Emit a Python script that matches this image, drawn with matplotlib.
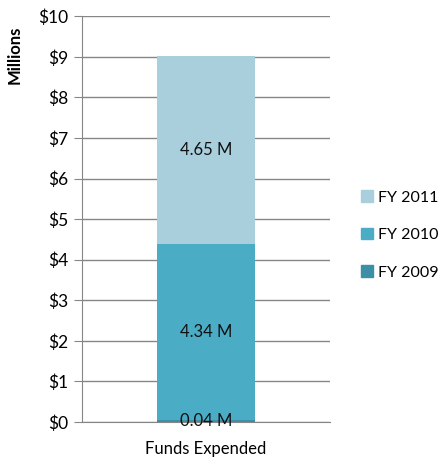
import matplotlib.pyplot as plt
from matplotlib.patches import Patch

# values in millions
category = ["Funds Expended"]
years = ["FY 2009", "FY 2010", "FY 2011"]
values = [0.04, 4.34, 4.65]
labels = ["0.04 M", "4.34 M", "4.65 M"]
colors = ["#3d8fa6", "#4bacc6", "#a9cfdd"]
yticks = list(range(0, 11))
ytick_labels = [f"${v}" for v in yticks]

plt.rcParams['font.family'] = ['Lato', 'DejaVu Sans']

fig = plt.figure(figsize=(4.39, 4.57), dpi=100)
ax = fig.add_axes([0.187, 0.0766, 0.565, 0.888])

bottom = 0
for yr, v, lab, c in zip(years, values, labels, colors):
    ax.bar(0, v, width=1.0, bottom=bottom, color=c, label=yr, zorder=3)
    ax.text(0, bottom + v / 2, lab, ha='center', va='center', fontsize=12, color='#111111', zorder=4)
    bottom += v

ax.set_xlim(-1.265, 1.265)
ax.set_ylim(0, 10)
ax.set_yticks(yticks)
ax.set_yticklabels(ytick_labels, fontsize=12.5)
ax.set_xticks([0])
ax.set_xticklabels(category, fontsize=12)
ax.tick_params(axis='x', length=0, pad=14)
ax.tick_params(axis='y', length=6, color='#868686', pad=4)
ax.set_ylabel("Millions", fontsize=12, fontweight='bold')
ax.yaxis.set_label_coords(-0.24, 0.904)
ax.grid(axis='y', color='#868686', linewidth=1, zorder=0)
for s in ['top', 'right']:
    ax.spines[s].set_visible(False)
for s in ['left', 'bottom']:
    ax.spines[s].set_color('#868686')

handles = [Patch(color=c, label=y) for y, c in zip(years, colors)][::-1]
fig.legend(handles=handles, loc='center left', bbox_to_anchor=(0.79, 0.486),
           frameon=False, fontsize=11.5, handlelength=0.75, handleheight=0.75,
           labelspacing=1.45, handletextpad=0.3)

fig.savefig("out.png", dpi=100)
